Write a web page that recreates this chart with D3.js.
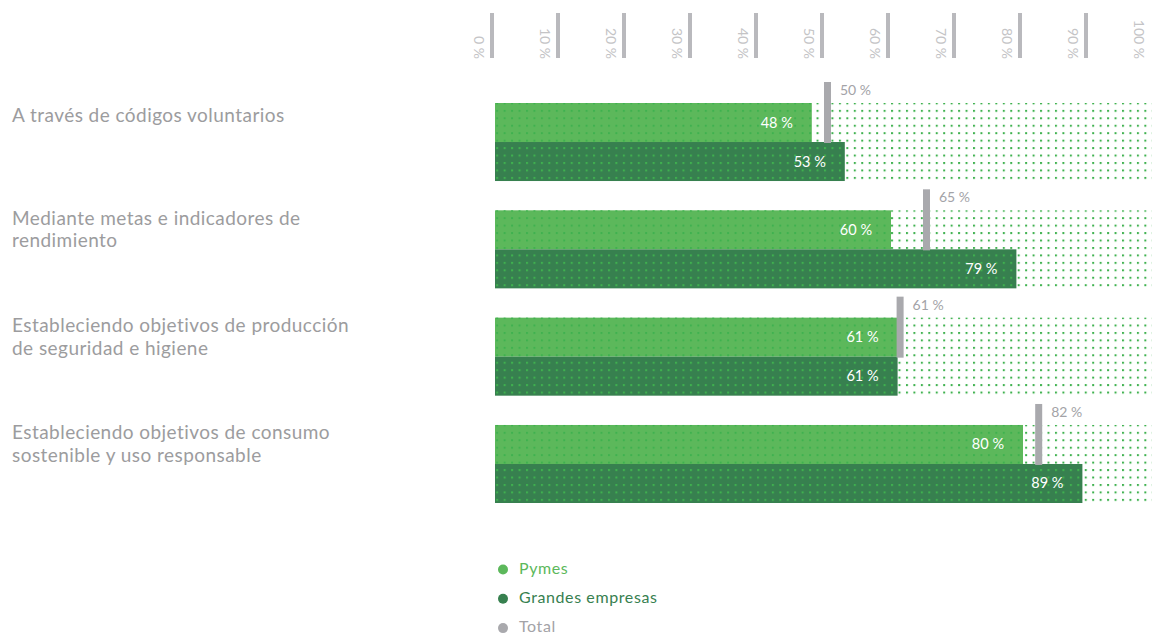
<!DOCTYPE html>
<html>
<head>
<meta charset="utf-8">
<script src="https://cdn.jsdelivr.net/npm/d3@7"></script>
<style>
  html, body { margin: 0; padding: 0; background: #fff; }
  svg { display: block; font-family: Lato, "Open Sans", sans-serif; }
</style>
</head>
<body>
<svg id="chart" width="1152" height="636"></svg>
<script>
// ---- data ----
const categories = [
  "A través de códigos voluntarios",
  "Mediante metas e indicadores de rendimiento",
  "Estableciendo objetivos de producción de seguridad e higiene",
  "Estableciendo objetivos de consumo sostenible y uso responsable"
];
const categoryLines = [
  ["A través de códigos voluntarios"],
  ["Mediante metas e indicadores de", "rendimiento"],
  ["Estableciendo objetivos de producción", "de seguridad e higiene"],
  ["Estableciendo objetivos de consumo", "sostenible y uso responsable"]
];
const pymes   = [48, 60, 61, 80];
const grandes = [53, 79, 61, 89];
const total   = [50, 65, 61, 82];
const tickValues = [0, 10, 20, 30, 40, 50, 60, 70, 80, 90, 100];
const seriesNames = ["Pymes", "Grandes empresas", "Total"];

// ---- styles ----
const C_PYMES = "#5cb85b", C_GRANDES = "#37804f", C_TOTAL = "#a9a9ad";
const C_DOT = "#3fb14f", C_TEXT = "#9c9c9e", C_TICK = "#b9b9bd";

const svg = d3.select("#chart");
const x = d3.scaleLinear().domain([0, 100]).range([495, 1155]);
const y = d3.scaleBand().domain(categories).range([103, 503]).paddingInner(0.273).paddingOuter(0);
const ySub = d3.scaleBand().domain(["pymes", "grandes"]).range([0, y.bandwidth()]);

// pattern
const defs = svg.append("defs");
const pat = defs.append("pattern").attr("id", "dots")
  .attr("patternUnits", "userSpaceOnUse")
  .attr("x", 496.2).attr("y", -0.6).attr("width", 7.45).attr("height", 7.45);
pat.append("rect").attr("x", 0).attr("y", 0).attr("width", 2).attr("height", 2).attr("fill", C_DOT);

// axis ticks (top)
const axis = svg.append("g");
axis.selectAll("rect.tick").data(tickValues.filter(v => v < 100)).join("rect")
  .attr("class", "tick")
  .attr("x", d => x(d) - 5).attr("y", 13).attr("width", 4).attr("height", 45)
  .attr("fill", C_TICK);
axis.selectAll("text.tl").data(tickValues).join("text")
  .attr("class", "tl")
  .attr("transform", d => `translate(${x(d) - 21},59) rotate(90)`)
  .attr("text-anchor", "end")
  .attr("font-size", 14)
  .attr("fill", "#c4c4c6")
  .text(d => d + " %");

// groups
const g = svg.selectAll("g.grp").data(categories).join("g")
  .attr("class", "grp")
  .attr("transform", d => `translate(0,${y(d)})`);

g.append("rect").attr("class", "pym")
  .attr("x", x(0)).attr("y", ySub("pymes"))
  .attr("width", (d, i) => x(pymes[i]) - x(0)).attr("height", ySub.bandwidth())
  .attr("fill", C_PYMES);
g.append("rect").attr("class", "gra")
  .attr("x", x(0)).attr("y", ySub("grandes"))
  .attr("width", (d, i) => x(grandes[i]) - x(0)).attr("height", ySub.bandwidth())
  .attr("fill", C_GRANDES);

// dotted overlay
g.append("rect")
  .attr("x", x(0)).attr("y", 0)
  .attr("width", 1152 - x(0)).attr("height", y.bandwidth())
  .attr("fill", "url(#dots)");

// total markers
g.append("rect")
  .attr("x", (d, i) => x(total[i]) - 1).attr("y", ySub("pymes") - 21)
  .attr("width", 7).attr("height", ySub.bandwidth() + 22)
  .attr("fill", C_TOTAL);
g.append("text")
  .attr("x", (d, i) => x(total[i]) + 15).attr("y", ySub("pymes") - 8)
  .attr("font-size", 14).attr("fill", "#a3a3a7")
  .text((d, i) => total[i] + " %");

// bar labels
g.append("text")
  .attr("x", (d, i) => x(pymes[i]) - 19).attr("y", ySub("pymes") + ySub.bandwidth() / 2 + 5)
  .attr("text-anchor", "end").attr("font-size", 14.5).attr("fill", "#fff")
  .text((d, i) => pymes[i] + " %");
g.append("text")
  .attr("x", (d, i) => x(grandes[i]) - 19).attr("y", ySub("grandes") + ySub.bandwidth() / 2 + 5)
  .attr("text-anchor", "end").attr("font-size", 14.5).attr("fill", "#fff")
  .text((d, i) => grandes[i] + " %");

// category labels
g.append("text")
  .attr("x", 12).attr("y", (d, i) => categoryLines[i].length === 1 ? 18.5 : 14.5)
  .attr("font-size", 19).attr("letter-spacing", 0.45).attr("fill", C_TEXT)
  .selectAll("tspan").data((d, i) => categoryLines[i]).join("tspan")
  .attr("x", 12).attr("dy", (d, j) => j === 0 ? 0 : 22.5)
  .text(d => d);

// legend
const legColors = [C_PYMES, C_GRANDES, C_TOTAL];
const legText = [C_PYMES, C_GRANDES, "#a3a3a7"];
const leg = svg.selectAll("g.leg").data(seriesNames).join("g")
  .attr("class", "leg")
  .attr("transform", (d, i) => `translate(503,${569.5 + i * 29.3})`);
leg.append("circle").attr("r", 5).attr("fill", (d, i) => legColors[i]);
leg.append("text").attr("x", 16).attr("y", 4).attr("font-size", 16).attr("letter-spacing", 0.6)
  .attr("fill", (d, i) => legText[i]).text(d => d);
</script>
</body>
</html>
